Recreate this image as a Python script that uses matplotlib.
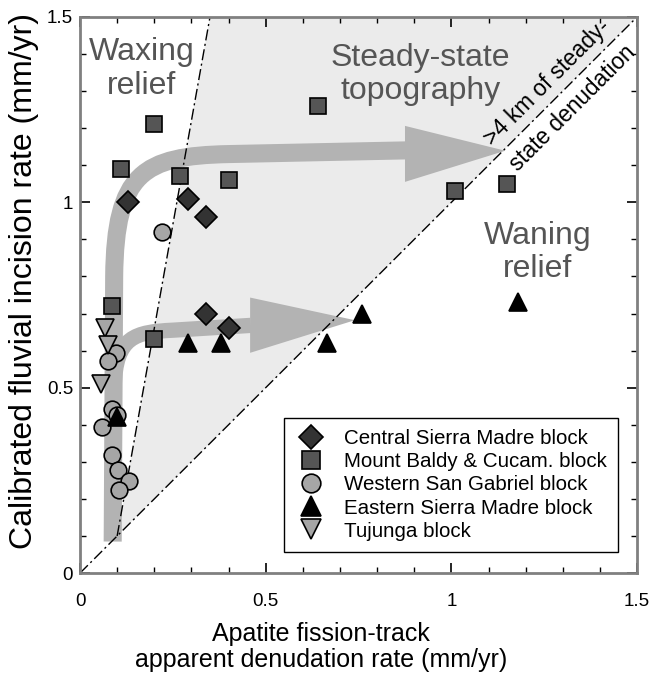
import numpy as np
import matplotlib
matplotlib.use("Agg")
import matplotlib.pyplot as plt
from matplotlib.path import Path
from matplotlib.patches import PathPatch, Polygon

plt.rcParams['font.family'] = ['Liberation Sans', 'DejaVu Sans']

# data (mm/yr)
central_x = [0.13, 0.29, 0.34, 0.34, 0.40]
central_y = [1.00, 1.01, 0.96, 0.70, 0.66]

baldy_x = [0.20, 0.11, 0.27, 0.40, 0.64, 1.01, 1.15, 0.085, 0.20]
baldy_y = [1.21, 1.09, 1.07, 1.06, 1.26, 1.03, 1.05, 0.72, 0.63]

wsg_x = [0.22, 0.096, 0.076, 0.085, 0.099, 0.058, 0.087, 0.103, 0.133, 0.106]
wsg_y = [0.92, 0.594, 0.571, 0.442, 0.427, 0.393, 0.319, 0.277, 0.247, 0.224]

esm_x = [0.29, 0.38, 0.665, 0.76, 0.10, 1.18]
esm_y = [0.62, 0.62, 0.62, 0.70, 0.42, 0.73]

tuj_x = [0.067, 0.076, 0.057]
tuj_y = [0.66, 0.615, 0.51]

# reference lines
steady_line_x = [0.1, 0.35]
steady_line_y = [0.1, 1.5]
one_to_one = [0, 1.5]

fig = plt.figure(figsize=(6.52, 6.75), dpi=100)
ax = fig.add_axes([0.1227, 0.151, 0.8545, 0.824])
ax.set_xlim(0, 1.5)
ax.set_ylim(0, 1.5)

# shaded steady-state wedge
ax.add_patch(Polygon([(0.1, 0.1), (0.35, 1.5), (1.5, 1.5)], closed=True,
                     facecolor='#ebebeb', edgecolor='none', zorder=0))

arrow_col = '#b3b3b3'
# big curved arrow
big = Path([(0.088, 0.085), (0.092, 0.80), (0.095, 1.08), (0.17, 1.125),
            (0.40, 1.13), (0.88, 1.14)],
           [Path.MOVETO, Path.LINETO, Path.CURVE4, Path.CURVE4, Path.CURVE4, Path.LINETO])
ax.add_patch(PathPatch(big, facecolor='none', edgecolor=arrow_col, lw=13,
                       capstyle='butt', joinstyle='round', zorder=1))
ax.add_patch(Polygon([(0.875, 1.206), (1.145, 1.139), (0.875, 1.055)],
                     facecolor=arrow_col, edgecolor='none', zorder=1))
# small curved arrow
small = Path([(0.09, 0.40), (0.092, 0.50), (0.095, 0.64), (0.15, 0.65),
              (0.25, 0.655), (0.46, 0.668)],
             [Path.MOVETO, Path.LINETO, Path.CURVE4, Path.CURVE4, Path.CURVE4, Path.LINETO])
ax.add_patch(PathPatch(small, facecolor='none', edgecolor=arrow_col, lw=11,
                       capstyle='butt', joinstyle='round', zorder=1))
ax.add_patch(Polygon([(0.458, 0.743), (0.74, 0.682), (0.458, 0.594)],
                     facecolor=arrow_col, edgecolor='none', zorder=1))

dash = (0, (8, 2.5, 1.5, 2.5))
ax.plot(one_to_one, one_to_one, color='black', lw=1, linestyle=dash, zorder=2)
ax.plot(steady_line_x, steady_line_y, color='black', lw=1, linestyle=dash, zorder=2)

mk = dict(linestyle='none', markeredgecolor='black', markeredgewidth=1.2, zorder=3)
ax.plot(central_x, central_y, 'D', ms=11, markerfacecolor='#333333',
        label='Central Sierra Madre block', **mk)
ax.plot(baldy_x, baldy_y, 's', ms=12, markerfacecolor='#555555',
        label='Mount Baldy & Cucam. block', **mk)
ax.plot(wsg_x, wsg_y, 'o', ms=12, markerfacecolor='#a6a6a6',
        label='Western San Gabriel block', **mk)
ax.plot(esm_x, esm_y, '^', ms=13, markerfacecolor='black',
        label='Eastern Sierra Madre block', **mk)
ax.plot(tuj_x, tuj_y, 'v', ms=13, markerfacecolor='#a6a6a6',
        label='Tujunga block', **mk)

leg = ax.legend(loc='lower right', bbox_to_anchor=(0.966, 0.038), fontsize=14.8,
                frameon=True, fancybox=False, edgecolor='black', framealpha=1,
                handletextpad=0.85, labelspacing=0.2, borderpad=0.55,
                handlelength=1.5, borderaxespad=0, markerscale=1.12)
leg.get_frame().set_linewidth(1.0)

txt = dict(color='#555555', fontsize=23, ha='center', va='center', linespacing=1.15)
ax.text(0.165, 1.36, 'Waxing\nrelief', **txt)
ax.text(0.916, 1.345, 'Steady-state\ntopography', **txt)
ax.text(1.233, 0.865, 'Waning\nrelief', **txt)
ax.text(1.291, 1.288, '>4 km of steady-\nstate denudation', rotation=45,
        rotation_mode='anchor', fontsize=16.3, ha='center', va='center',
        multialignment='right', linespacing=1.7)

ax.set_xticks([0, 0.5, 1, 1.5])
ax.set_yticks([0, 0.5, 1, 1.5])
ax.set_xticklabels(['0', '0.5', '1', '1.5'])
ax.set_yticklabels(['0', '0.5', '1', '1.5'])
ax.set_xticks(np.arange(0, 1.51, 0.1), minor=True)
ax.set_yticks(np.arange(0, 1.51, 0.1), minor=True)
ax.tick_params(which='both', direction='in', top=True, right=True,
               color='black', labelsize=13.5)
ax.tick_params(which='major', length=7, width=1.2)
ax.tick_params(which='minor', length=4, width=1)
ax.tick_params(axis='x', which='major', pad=14)
ax.tick_params(axis='y', which='major', pad=5)
for s in ax.spines.values():
    s.set_color('#808080')
    s.set_linewidth(2)

ax.set_xlabel('Apatite fission-track\napparent denudation rate (mm/yr)',
              fontsize=18, linespacing=1.1)
ax.xaxis.set_label_coords(0.433, -0.088)
ax.set_ylabel('Calibrated fluvial incision rate (mm/yr)', fontsize=23)
ax.yaxis.set_label_coords(-0.073, 0.525)

fig.savefig('out.png', dpi=100)
